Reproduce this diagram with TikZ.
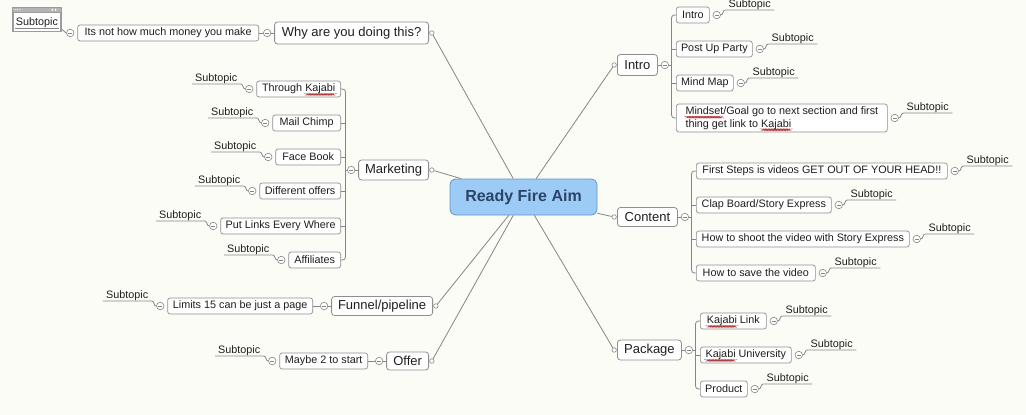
\documentclass[tikz,border=0pt]{standalone}
\usepackage{fontspec}
\setmainfont{Liberation Sans}
\usetikzlibrary{calc,positioning}
\newsavebox\wbox
\newcommand\redwave[1]{\sbox\wbox{#1}\leavevmode\rlap{\tikz[overlay,x=1pt,y=1pt,baseline=0pt]{%
  \pgfmathtruncatemacro\wN{\wd\wbox/1.5}%
  \draw[red!60!black, opacity=0.75, line width=0.35pt] (0,-2.2) \foreach \k in {1,...,\wN}{ -- ({\k*1.5},{-2.2-mod(\k,2)*0.9}) };}}\usebox\wbox}
\definecolor{bgc}{HTML}{FCFCF6}
\definecolor{bord}{HTML}{8E8E8E}
\definecolor{lin}{HTML}{858585}
\definecolor{txt}{HTML}{1E1E1E}
\definecolor{cfill}{HTML}{9CCBF5}
\definecolor{cbord}{HTML}{5F93CC}
\definecolor{ctext}{HTML}{2B4468}
\definecolor{selg}{HTML}{9C9C9C}
\definecolor{selbar}{HTML}{B4B4B4}
\tikzset{
  conn/.style={draw=lin, line width=0.8pt},
  lone/.style={draw=bord, fill=white, rounded corners=3pt, line width=0.8pt, text=txt,
    font=\fontsize{13}{15}\selectfont, inner xsep=5pt, inner ysep=0pt, minimum height=20pt},
  ltwo/.style={draw=bord, fill=white, rounded corners=2.5pt, line width=0.7pt, text=txt,
    font=\fontsize{10.8}{12.5}\selectfont, inner xsep=4pt, inner ysep=0pt, minimum height=16pt},
  subt/.style={inner sep=0pt, text=txt, font=\fontsize{10.8}{12}\selectfont},
  tog/.style={circle, draw=lin, fill=white, minimum size=7.5pt, inner sep=0pt, line width=0.6pt,
    path picture={\draw[lin, line width=0.8pt] ([xshift=-2.2pt]path picture bounding box.center) -- ([xshift=2.2pt]path picture bounding box.center);}},
  dotc/.style={circle, draw=lin, fill=white, minimum size=4.5pt, inner sep=0pt, line width=0.6pt},
}
% left-side leaf: #1 toggle node, #2 name of subtopic node
\newcommand\leafL[2]{%
  \coordinate (#2r) at ($(#1.center)+(-8.5,-5)$);
  \coordinate (#2l) at ($(#2r)+(-49,0)$);
  \node[subt, anchor=base] (#2) at ($(#2l)!0.5!(#2r)+(0,-2.3)$) {Subtopic};
  \draw[conn] (#2l) -- (#2r) to[out=0,in=180] (#1.west);
}
% right-side leaf
\newcommand\leafR[2]{%
  \coordinate (#2l) at ($(#1.center)+(8.5,-5)$);
  \coordinate (#2r) at ($(#2l)+(49,0)$);
  \node[subt, anchor=base] (#2) at ($(#2l)!0.5!(#2r)+(0,-2.3)$) {Subtopic};
  \draw[conn] (#1.east) to[out=0,in=180] (#2l) -- (#2r);
}
\begin{document}
\begin{tikzpicture}[x=1pt,y=-1pt]
\useasboundingbox (0,0) rectangle (1026,415);
\fill[bgc] (0,0) rectangle (1026,415);

% ---------- central node
\node[draw=cbord, fill=cfill, rounded corners=6pt, line width=0.8pt, minimum width=147pt,
  minimum height=36pt, font=\fontsize{16}{18}\selectfont\bfseries, text=ctext] (cen) at (523.5,197) {Ready Fire Aim};

% ---------- Why are you doing this?
\node[lone, anchor=east, minimum width=154pt, minimum height=22pt] (why) at (429,33) {Why are you doing this?};
\node[dotc, right=0.3pt of why] (whyd) {};
\node[tog, left=3pt of why] (whyt) {};
\node[ltwo, anchor=east, minimum width=181pt] (money) at (259,33) {Its not how much money you make};
\node[tog, left=3pt of money] (moneyt) {};
\draw[conn] (whyt.east) -- (why.west);
\draw[conn] (whyt.west) -- (money.east);
\draw[conn] (cen) -- (whyd);
% selected subtopic
\node[fill=selg, minimum width=50pt, minimum height=25pt, inner sep=0pt, anchor=north west] (sel) at (12,7) {};
\fill[selbar] (13,8) rectangle (61,11.5);
\fill[white] (15,9.8) circle (0.6) (17.5,9.8) circle (0.6) (20,9.8) circle (0.6);
\fill[white] (53,8.6) -- (53,11) -- (51.2,9.8) -- cycle (55,8.6) -- (55,11) -- (56.8,9.8) -- cycle;
\fill[white] (14,12.5) rectangle (60,30.5);
\node[subt, anchor=base] (seltxt) at (37,25.5) {Subtopic};
\draw[lin, line width=0.7pt] (15,28.5) -- (59,28.5);
\coordinate (selc) at (62,29.5);
\draw[conn] (selc) to[out=0,in=180] (moneyt.west);

% ---------- Marketing
\node[lone, anchor=east, minimum width=70pt] (mkt) at (429,170) {Marketing};
\node[dotc, right=0.3pt of mkt] (mktd) {};
\node[tog, left=3pt of mkt] (mktt) {};
\draw[conn] (mktt.east) -- (mkt.west);
\draw[conn] (cen) -- (mktd);
\node[ltwo, anchor=east, minimum width=84pt] (m1) at (341,89) {Through \redwave{Kajabi}};
\node[ltwo, anchor=east, minimum width=68pt] (m2) at (341,123) {Mail Chimp};
\node[ltwo, anchor=east, minimum width=65pt] (m3) at (341,157) {Face Book};
\node[ltwo, anchor=east, minimum width=81pt] (m4) at (341,191) {Different offers};
\node[ltwo, anchor=east, minimum width=120pt] (m5) at (341,226) {Put Links Every Where};
\node[ltwo, anchor=east, minimum width=52pt] (m6) at (341,260) {Affiliates};
\foreach \n in {m1,m2,m3,m4,m5,m6}{
  \node[tog, left=3pt of \n] (\n t) {};
  \leafL{\n t}{\n s}
}
\coordinate (mbx) at ($(m1.east)+(4.5,0)$);
\draw[conn, rounded corners=3pt] (m1.east) -| (mbx |- m6.east) -- (m6.east);
\foreach \n in {m2,m3,m4,m5}{ \draw[conn] (\n.east) -- (\n.east -| mbx); }
\draw[conn] (mktt.west) -- (mktt.west -| mbx);

% ---------- Funnel/pipeline
\node[lone, anchor=east, minimum width=101pt, minimum height=19pt] (fun) at (433,306) {Funnel/pipeline};
\node[dotc, right=0.3pt of fun] (fund) {};
\node[tog, left=3pt of fun] (funt) {};
\draw[conn] (funt.east) -- (fun.west);
\draw[conn] (cen) -- (fund);
\node[ltwo, anchor=east, minimum width=145pt] (lim) at (313,306) {Limits 15 can be just a page};
\node[tog, left=3pt of lim] (limt) {};
\leafL{limt}{lims}
\draw[conn] (funt.west) -- (lim.east);

% ---------- Offer
\node[lone, anchor=east, minimum width=42pt, minimum height=18pt] (off) at (429,361) {Offer};
\node[dotc, right=0.3pt of off] (offd) {};
\node[tog, left=3pt of off] (offt) {};
\draw[conn] (offt.east) -- (off.west);
\draw[conn] (cen) -- (offd);
\node[ltwo, anchor=east, minimum width=88pt] (may) at (368,361) {Maybe 2 to start};
\node[tog, left=3pt of may] (mayt) {};
\leafL{mayt}{mays}
\draw[conn] (offt.west) -- (may.east);

% ---------- Intro
\node[lone, anchor=west, minimum width=40pt, minimum height=21pt] (intro) at (617,65) {Intro};
\node[dotc, left=0.3pt of intro] (introd) {};
\node[tog, right=3pt of intro] (introt) {};
\draw[conn] (intro.east) -- (introt.west);
\draw[conn] (cen) -- (introd);
\node[ltwo, anchor=west, minimum width=33pt] (i1) at (676,15) {Intro};
\node[ltwo, anchor=west, minimum width=76pt] (i2) at (676,49) {Post Up Party};
\node[ltwo, anchor=west, minimum width=57pt] (i3) at (676,83) {Mind Map};
\node[ltwo, anchor=west, minimum width=211pt, minimum height=28pt, align=left] (i4) at (676,118)
  {\redwave{Mindset}/Goal go to next section and first\\thing get link to \redwave{Kajabi}};
\foreach \n in {i1,i2,i3,i4}{
  \node[tog, right=3pt of \n] (\n t) {};
  \leafR{\n t}{\n s}
}
\coordinate (ibx) at ($(i1.west)+(-4.5,0)$);
\draw[conn, rounded corners=3pt] (i1.west) -| (ibx |- i4.west) -- (i4.west);
\foreach \n in {i2,i3}{ \draw[conn] (\n.west) -- (\n.west -| ibx); }
\draw[conn] (introt.east) -- (introt.east -| ibx);

% ---------- Content
\node[lone, anchor=west, minimum width=60pt, minimum height=19pt] (con) at (617,217) {Content};
\node[dotc, left=0.3pt of con] (cond) {};
\node[tog, right=3pt of con] (cont) {};
\draw[conn] (con.east) -- (cont.west);
\draw[conn] (cen) -- (cond);
\node[ltwo, anchor=west, minimum width=251pt] (c1) at (696,171) {First Steps is videos GET OUT OF YOUR HEAD!!};
\node[ltwo, anchor=west, minimum width=135pt] (c2) at (696,205) {Clap Board/Story Express};
\node[ltwo, anchor=west, minimum width=213pt] (c3) at (696,239) {How to shoot the video with Story Express};
\node[ltwo, anchor=west, minimum width=119pt] (c4) at (696,273) {How to save the video};
\foreach \n in {c1,c2,c3,c4}{
  \node[tog, right=3pt of \n] (\n t) {};
  \leafR{\n t}{\n s}
}
\coordinate (cbx) at ($(c1.west)+(-4.5,0)$);
\draw[conn, rounded corners=3pt] (c1.west) -| (cbx |- c4.west) -- (c4.west);
\foreach \n in {c2,c3}{ \draw[conn] (\n.west) -- (\n.west -| cbx); }
\draw[conn] (cont.east) -- (cont.east -| cbx);

% ---------- Package
\node[lone, anchor=west, minimum width=64pt, minimum height=20pt] (pkg) at (617,350) {Package};
\node[dotc, left=0.3pt of pkg] (pkgd) {};
\node[tog, right=3pt of pkg] (pkgt) {};
\draw[conn] (pkg.east) -- (pkgt.west);
\draw[conn] (cen) -- (pkgd);
\node[ltwo, anchor=west, minimum width=66pt] (p1) at (700,321) {\redwave{Kajabi} Link};
\node[ltwo, anchor=west, minimum width=91pt] (p2) at (700,355) {\redwave{Kajabi} University};
\node[ltwo, anchor=west, minimum width=47pt] (p3) at (700,389) {Product};
\foreach \n in {p1,p2,p3}{
  \node[tog, right=3pt of \n] (\n t) {};
  \leafR{\n t}{\n s}
}
\coordinate (pbx) at ($(p1.west)+(-4.5,0)$);
\draw[conn, rounded corners=3pt] (p1.west) -| (pbx |- p3.west) -- (p3.west);
\draw[conn] (p2.west) -- (p2.west -| pbx);
\draw[conn] (pkgt.east) -- (pkgt.east -| pbx);
\end{tikzpicture}
\end{document}
